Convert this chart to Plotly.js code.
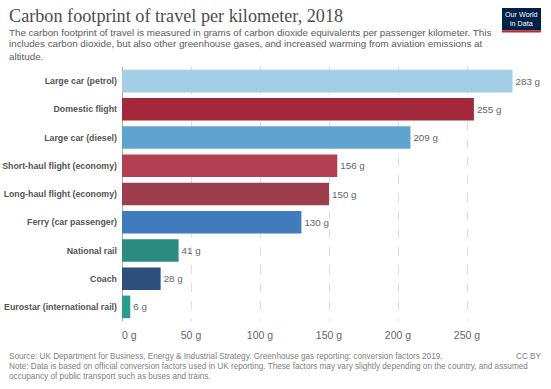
<!DOCTYPE html>
<html>
<head>
<meta charset="utf-8">
<script src="https://cdn.plot.ly/plotly-3.0.1.min.js"></script>
<style>html,body{margin:0;padding:0;background:#fff;}#chart{width:551px;height:389px;}</style>
</head>
<body>
<div id="chart"></div>
<script>
const categories = ["Large car (petrol)", "Domestic flight", "Large car (diesel)", "Short-haul flight (economy)", "Long-haul flight (economy)", "Ferry (car passenger)", "National rail", "Coach", "Eurostar (international rail)"];
const values = [283, 255, 209, 156, 150, 130, 41, 28, 6];
const barColors = ["#a2cfe6", "#a4283c", "#5ea4cf", "#b33f52", "#9d3d4d", "#3f7bbd", "#2b8a82", "#2c4f7b", "#2a9d90"];
const xTicks = [0, 50, 100, 150, 200, 250];
const xTickLabels = ["\u00a0\u00a0\u00a0\u00a0\u00a00 g", "50 g", "100 g", "150 g", "200 g", "250 g"];

const L = 122, R = 530, T = 67, B = 321, W = 551, H = 389;
const px = x => (x - L) / (R - L);
const py = y => (B - y) / (B - T);

const FONT = "'Liberation Sans', Arial, sans-serif";

const trace = {
  type: "bar",
  orientation: "h",
  y: categories,
  x: values,
  marker: {color: barColors, line: {width: 0}},
  text: values.map(v => v + " g"),
  textposition: "outside",
  cliponaxis: false,
  textfont: {family: FONT, size: 9.8, color: "#666"},
  hoverinfo: "none"
};

function ann(text, x, y, size, color, extra) {
  return Object.assign({
    text: text, xref: "paper", yref: "paper", x: px(x), y: py(y),
    xanchor: "left", yanchor: "middle", showarrow: false, align: "left",
    font: {family: FONT, size: size, color: color}
  }, extra || {});
}

const annotations = [
  ann("Carbon footprint of travel per kilometer, 2018", 7, 16, 18, "#4d4d4d", {font: {family: "'Liberation Serif', 'DejaVu Serif', serif", size: 18.2, color: "#4d4d4d"}}),
  ann("The carbon footprint of travel is measured in grams of carbon dioxide equivalents per passenger kilometer. This", 7, 32, 9.8, "#5b5b5b"),
  ann("includes carbon dioxide, but also other greenhouse gases, and increased warming from aviation emissions at", 7, 44, 9.8, "#5b5b5b"),
  ann("altitude.", 7, 56, 9.8, "#5b5b5b"),
  ann("Source: UK Department for Business, Energy &amp; Industrial Strategy. Greenhouse gas reporting: conversion factors 2019.", 7, 356, 8.2, "#808080"),
  ann("CC BY", 544, 356, 8.2, "#808080", {xanchor: "right"}),
  ann("Note: Data is based on official conversion factors used in UK reporting. These factors may vary slightly depending on the country, and assumed", 7, 366, 8.2, "#808080"),
  ann("occupancy of public transport such as buses and trains.", 7, 376, 8.2, "#808080"),
  ann("Our World<br>in Data", 521, 19, 7.2, "#fff", {xanchor: "center", align: "center"})
];

const shapes = [
  {type: "rect", xref: "paper", yref: "paper", x0: px(502), x1: px(541), y0: py(8), y1: py(30.5), fillcolor: "#002147", line: {width: 0}, layer: "above"},
  {type: "rect", xref: "paper", yref: "paper", x0: px(502), x1: px(541), y0: py(30.5), y1: py(32.5), fillcolor: "#ce261e", line: {width: 0}, layer: "above"}
];

const layout = {
  width: W, height: H,
  margin: {l: L, r: W - R, t: T, b: H - B, pad: 0},
  paper_bgcolor: "#fff", plot_bgcolor: "#fff",
  showlegend: false,
  bargap: 0.2,
  xaxis: {
    range: [0, (R - L) / 1.38],
    tickvals: xTicks, ticktext: xTickLabels,
    showgrid: true, gridcolor: "#dddddd", griddash: "dash", gridwidth: 1,
    zeroline: true, zerolinecolor: "#aaaaaa", zerolinewidth: 1,
    showline: false, ticks: "", ticklabelstandoff: 6,
    tickfont: {family: FONT, size: 10.5, color: "#666"},
    fixedrange: true
  },
  yaxis: {
    autorange: "reversed",
    showgrid: false, zeroline: false, showline: false, ticks: "",
    ticklabelstandoff: 4,
    tickfont: {family: FONT, size: 8.8, color: "#555", weight: "bold"},
    fixedrange: true
  },
  annotations: annotations,
  shapes: shapes
};

Plotly.newPlot("chart", [trace], layout, {displayModeBar: false, staticPlot: true});
</script>
</body>
</html>
